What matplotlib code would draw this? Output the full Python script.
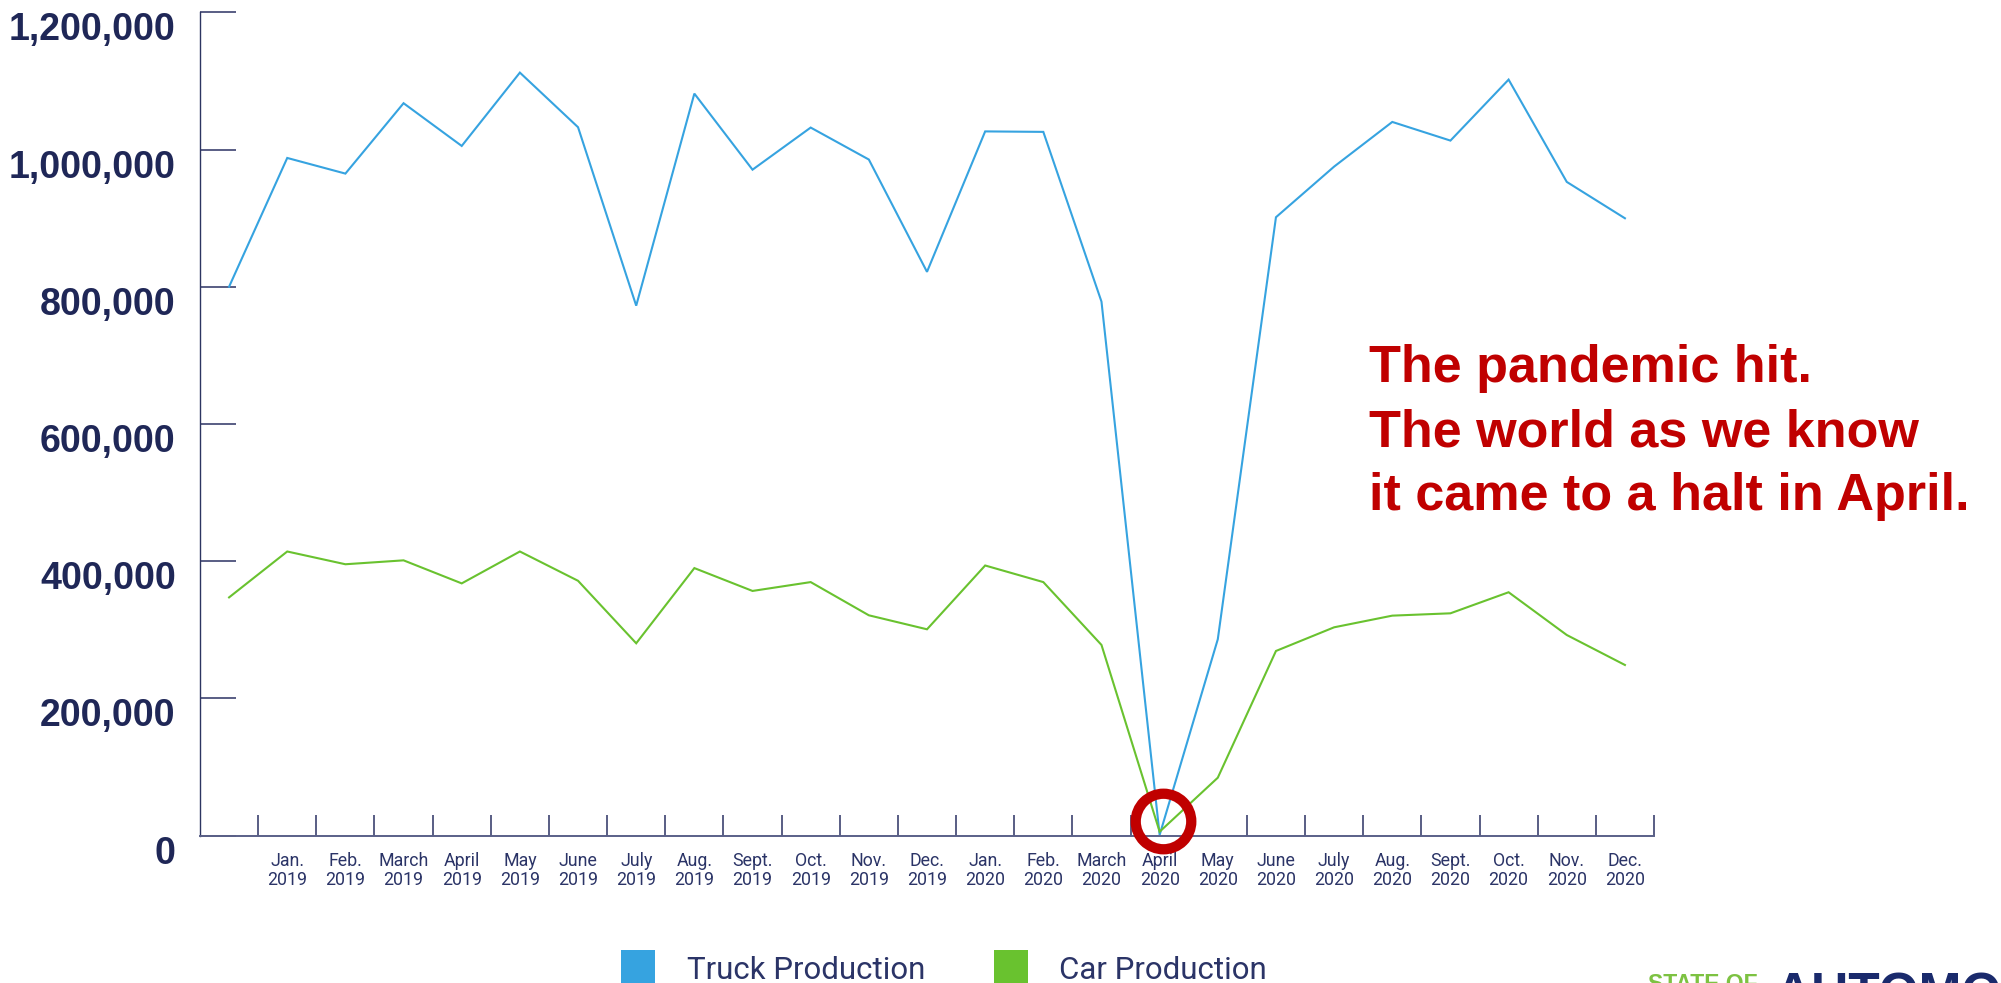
import matplotlib
matplotlib.use("Agg")
import matplotlib.pyplot as plt
import matplotlib.transforms as mtransforms
from matplotlib.patches import Patch

W, H = 2001, 983

# monthly production, Dec 2018 .. Dec 2020 (first point has no label)
months = ["Dec.\n2018",
          "Jan.\n2019", "Feb.\n2019", "March\n2019", "April\n2019", "May\n2019", "June\n2019",
          "July\n2019", "Aug.\n2019", "Sept.\n2019", "Oct.\n2019", "Nov.\n2019", "Dec.\n2019",
          "Jan.\n2020", "Feb.\n2020", "March\n2020", "April\n2020", "May\n2020", "June\n2020",
          "July\n2020", "Aug.\n2020", "Sept.\n2020", "Oct.\n2020", "Nov.\n2020", "Dec.\n2020"]
truck = [800000, 987700, 964900, 1067500, 1005200, 1112100, 1032500, 772400, 1081500,
         970600, 1032000, 985400, 821700, 1026400, 1025700, 778300, 1000, 286200,
         901300, 975100, 1040200, 1013000, 1101900, 952800, 899800]
car = [347200, 414100, 395500, 401200, 367600, 414100, 371400, 280300, 389900,
       356600, 369500, 321100, 300700, 393700, 369500, 277900, 5700, 84400,
       269100, 303600, 320600, 324000, 354700, 292400, 248700]
yticks = [0, 200000, 400000, 600000, 800000, 1000000, 1200000]
ytick_labels = ["0", "200,000", "400,000", "600,000", "800,000", "1,000,000", "1,200,000"]
series_names = ["Truck Production", "Car Production"]
note = "The pandemic hit.\nThe world as we know\nit came to a halt in April."
halt_month = "April\n2020"

blue = "#36a3e0"
green = "#69c22f"
navy = "#1f2757"
red = "#c00000"

fig = plt.figure(figsize=(W / 100, H / 100), dpi=100)
ax = fig.add_axes([200 / W, 1 - 835.6 / H, 1454 / W, 823.3 / H])

x = list(range(len(months)))
ax.plot(x, truck, color=blue, lw=1.5, solid_joinstyle="miter")
ax.plot(x, car, color=green, lw=1.5, solid_joinstyle="miter")

ax.set_xlim(-0.5, len(months) - 0.5)
ax.set_ylim(0, 1200000)

for s in ["top", "right"]:
    ax.spines[s].set_visible(False)
ax.spines["left"].set_color("#2d3561")
ax.spines["left"].set_linewidth(1.0)
ax.spines["bottom"].set_color("#5a6088")
ax.spines["bottom"].set_linewidth(1.4)

ax.set_yticks(yticks)
ax.set_yticklabels(ytick_labels, fontfamily="Liberation Sans", fontweight="bold",
                   fontsize=27, color=navy, va="top")
ax.tick_params(axis="y", direction="in", length=26, width=1.2, color="#3c4270", pad=17.5)

# labels centred on the months, tick marks on the month boundaries
ax.set_xticks(x[1:])
ax.set_xticklabels(months[1:], fontfamily="Roboto", fontsize=12.8, color="#2b3467",
                   linespacing=1.05)
ax.tick_params(axis="x", which="major", length=0, pad=12)
ax.set_xticks([i + 0.5 for i in x], minor=True)
ax.tick_params(axis="x", which="minor", direction="in", length=15, width=1.2,
               color="#3c4270")

# red ring around the April 2020 low
k = months.index(halt_month)
ring_tr = mtransforms.offset_copy(ax.transData, fig=fig, x=3, y=11, units="dots")
ax.plot([k], [car[k]], marker="o", ms=40, mfc="none", mec=red, mew=7.4,
        transform=ring_tr, clip_on=False, zorder=6)

fig.text(1369 / W, 1 - 344 / H, note, fontfamily="Liberation Sans", fontweight="bold",
         fontsize=37.5, color=red, va="top", ha="left", linespacing=1.4)

handles = [Patch(facecolor=blue, edgecolor="none"), Patch(facecolor=green, edgecolor="none")]
fig.legend(handles, series_names, loc="upper left", bbox_to_anchor=(621 / W, 1 - 950 / H),
           ncol=2, frameon=False, borderpad=0, borderaxespad=0,
           prop={"family": "Roboto", "size": 22.5}, labelcolor="#2b3467",
           handlelength=1.1, handleheight=1.5, handletextpad=1.0, columnspacing=2.2)

# logo, cut off at the bottom edge
fig.text(1648 / W, 1 - 973 / H, "STATE OF", fontfamily="Liberation Sans", fontweight="bold",
         fontsize=16.5, color="#7dc242", va="top", ha="left")
fig.text(1775 / W, 1 - 971 / H, "AUTOMOTIVE", fontfamily="Liberation Sans", fontweight="bold",
         fontsize=37, color="#1a2a6c", va="top", ha="left")

fig.savefig("out.png", dpi=100)
